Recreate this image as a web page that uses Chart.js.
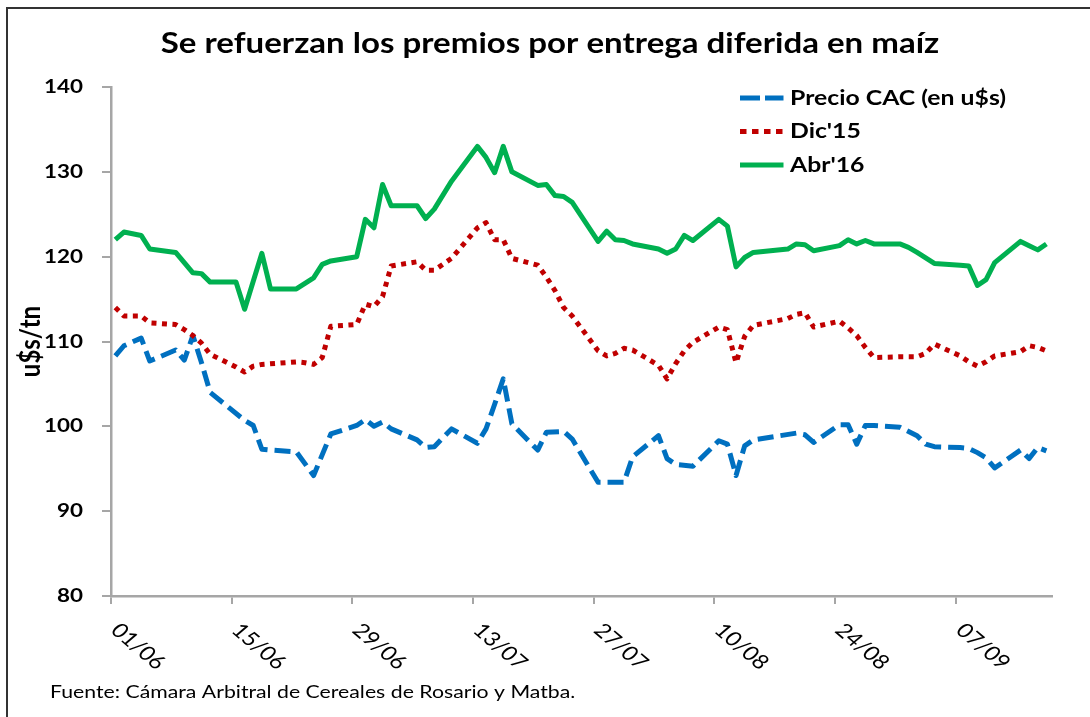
<!DOCTYPE html>
<html>
<head>
<meta charset="utf-8">
<script src="https://cdn.jsdelivr.net/npm/chart.js@4.4.0/dist/chart.umd.min.js"></script>
<style>
html,body{margin:0;padding:0;background:#fff;}
#wrap{width:1090px;height:717px;position:relative;}
</style>
</head>
<body>
<div id="wrap"><canvas id="c"></canvas></div>
<script>
// ---------- texts ----------
const chartTitle = "Se refuerzan los premios por entrega diferida en maíz";
const yAxisTitle = "u$s/tn";
const sourceNote = "Fuente: Cámara Arbitral de Cereales de Rosario y Matba.";
const seriesNames = ["Precio CAC (en u$s)", "Dic'15", "Abr'16"];

// ---------- axis ticks ----------
const tickDates = ["01/06","15/06","29/06","13/07","27/07","10/08","24/08","07/09"];
const yTickValues = [80, 90, 100, 110, 120, 130, 140];

// ---------- series (dd/mm 2015, u$s/tn) ----------
const cacDates = ["01/06","02/06","04/06","05/06","08/06","09/06","10/06","11/06","12/06",
  "16/06","17/06","18/06","19/06","22/06","24/06","26/06","29/06","30/06","01/07","02/07","03/07",
  "06/07","07/07","08/07","10/07","13/07","14/07","15/07","16/07","17/07","20/07","21/07","23/07","24/07",
  "27/07","30/07","31/07","03/08","04/08","05/08","07/08","10/08","11/08","12/08","13/08","14/08",
  "19/08","20/08","21/08","24/08","25/08","26/08","27/08","28/08","31/08","02/09","03/09","04/09",
  "07/09","08/09","09/09","10/09","11/09","14/09","15/09","16/09","17/09"];
const cacValues = [108.3,109.5,110.4,107.7,109.0,107.8,110.7,107.5,104.0,
  100.7,100.1,97.3,97.2,97.0,94.2,99.1,100.1,100.8,100.0,100.5,99.7,
  98.4,97.5,97.6,99.7,98.0,99.7,102.6,105.6,100.3,97.2,99.3,99.4,98.5,
  93.4,93.4,96.4,98.9,96.2,95.5,95.3,98.3,97.9,94.2,97.7,98.4,
  99.2,99.0,98.1,100.2,100.2,97.9,100.1,100.1,99.9,98.9,97.9,97.6,
  97.5,97.4,96.9,96.3,95.1,97.2,96.2,97.5,97.1];

const dic15Dates = ["01/06","02/06","04/06","05/06","08/06","09/06","10/06","11/06","12/06",
  "15/06","16/06","17/06","18/06","22/06","23/06","24/06","25/06","26/06","29/06","30/06","01/07","02/07","03/07",
  "06/07","07/07","08/07","10/07","13/07","14/07","15/07","16/07","17/07","20/07","21/07","22/07","23/07","24/07",
  "27/07","28/07","29/07","30/07","31/07","03/08","04/08","05/08","06/08","07/08","10/08","11/08","12/08","13/08","14/08",
  "18/08","19/08","20/08","21/08","24/08","25/08","26/08","27/08","28/08","31/08","01/09","02/09","03/09","04/09",
  "07/09","08/09","09/09","10/09","11/09","14/09","15/09","16/09","17/09"];
const dic15Values = [114.0,113.0,113.0,112.2,112.0,111.4,110.7,109.8,108.5,
  107.0,106.4,107.1,107.3,107.6,107.5,107.3,108.1,111.8,112.0,114.4,114.1,115.3,118.9,
  119.4,118.4,118.4,119.8,123.4,124.0,122.0,122.0,119.8,119.0,117.6,116.0,114.0,113.0,
  108.9,108.3,108.6,109.2,109.0,107.2,105.6,107.4,108.9,109.9,111.7,111.4,107.5,110.6,111.9,
  112.7,113.2,113.4,111.7,112.4,111.6,110.7,109.3,108.1,108.2,108.2,108.2,108.6,109.7,
  108.3,107.6,107.1,107.6,108.3,108.8,109.5,109.3,108.9];

const abr16Dates = ["01/06","02/06","04/06","05/06","08/06","10/06","11/06","12/06",
  "15/06","16/06","18/06","19/06","22/06","24/06","25/06","26/06","29/06","30/06","01/07","02/07","03/07",
  "06/07","07/07","08/07","10/07","13/07","14/07","15/07","16/07","17/07","20/07","21/07","22/07","23/07","24/07",
  "27/07","28/07","29/07","30/07","31/07","03/08","04/08","05/08","06/08","07/08","10/08","11/08","12/08","13/08","14/08",
  "18/08","19/08","20/08","21/08","24/08","25/08","26/08","27/08","28/08","31/08","01/09","02/09","04/09",
  "07/09","08/09","09/09","10/09","11/09","14/09","15/09","16/09","17/09"];
const abr16Values = [122.0,122.9,122.5,120.9,120.5,118.1,118.0,117.0,
  117.0,113.8,120.4,116.2,116.2,117.5,119.1,119.5,120.0,124.4,123.4,128.5,126.0,
  126.0,124.5,125.6,128.9,133.0,131.7,129.9,133.0,130.0,128.4,128.5,127.2,127.1,126.4,
  121.8,123.0,122.0,121.9,121.5,120.9,120.4,120.9,122.5,121.9,124.4,123.6,118.8,119.9,120.5,
  120.9,121.5,121.4,120.7,121.3,122.0,121.5,121.9,121.5,121.5,121.1,120.5,119.2,
  119.0,118.9,116.6,117.3,119.3,121.8,121.3,120.8,121.5];

// ---------- helpers ----------
function dayIndex(s) {
  const p = s.split('/').map(Number);
  return Math.round((Date.UTC(2015, p[1] - 1, p[0]) - Date.UTC(2015, 5, 1)) / 86400000);
}
function toPoints(dates, values) {
  return dates.map((s, i) => ({ x: dayIndex(s), y: values[i] }));
}

const SX = 1.18;            // horizontal text stretch of the original picture
const FONT = 'Lato, "Open Sans", sans-serif';
const AXIS_GREY = '#A6A6A6';

function drawText(ctx, txt, x, y, o) {
  ctx.save();
  ctx.translate(x, y);
  ctx.scale(SX, 1);
  if (o.rotate) ctx.rotate(o.rotate);
  ctx.font = o.font;
  ctx.fillStyle = o.color || '#000';
  ctx.textAlign = o.align || 'left';
  ctx.textBaseline = o.baseline || 'alphabetic';
  ctx.fillText(txt, 0, 0);
  ctx.restore();
}

const decorPlugin = {
  id: 'decor',
  afterDraw(chart) {
    const ctx = chart.ctx;
    const xs = chart.scales.x, ys = chart.scales.y;
    const ca = chart.chartArea;

    // frame (left and top edges of the original picture)
    ctx.save();
    ctx.strokeStyle = '#333';
    ctx.lineWidth = 2;
    ctx.beginPath();
    ctx.moveTo(7, 717); ctx.lineTo(7, 8); ctx.lineTo(1090, 8);
    ctx.stroke();
    ctx.restore();

    // title
    drawText(ctx, chartTitle, 550, 53, { font: 'bold 28px ' + FONT, align: 'center' });

    // y tick labels
    ys.ticks.forEach(t => {
      drawText(ctx, String(t.value), ca.left - 28, ys.getPixelForValue(t.value),
        { font: 'bold 19px ' + FONT, align: 'right', baseline: 'middle' });
    });

    // y axis title
    drawText(ctx, yAxisTitle, 31, (ca.top + ca.bottom) / 2,
      { font: 'bold 24px ' + FONT, align: 'center', baseline: 'middle', rotate: -Math.PI / 2 });

    // x tick labels, rotated downwards
    xs.ticks.forEach((t, i) => {
      const px = xs.getPixelForValue(t.value);
      drawText(ctx, tickDates[i], px + 4, ca.bottom + 31,
        { font: '20px ' + FONT, align: 'left', baseline: 'middle', rotate: Math.PI / 4 });
    });

    // legend
    const legendDash = [[20, 5], [6.5, 5.5], []];
    const rowsY = [98, 131.5, 165];
    chart.data.datasets.forEach((ds, i) => {
      const y = rowsY[i];
      ctx.save();
      ctx.strokeStyle = ds.borderColor;
      ctx.lineWidth = ds.borderWidth;
      ctx.setLineDash(legendDash[i]);
      ctx.lineCap = 'butt';
      ctx.beginPath();
      ctx.moveTo(740, y); ctx.lineTo(783.5, y);
      ctx.stroke();
      ctx.restore();
      drawText(ctx, ds.label, 790, y, { font: 'bold 21px ' + FONT, align: 'left', baseline: 'middle' });
    });

    // source
    drawText(ctx, sourceNote, 50, 698, { font: '18px ' + FONT, align: 'left' });
  }
};

const common = { pointRadius: 0, pointHoverRadius: 0, tension: 0, fill: false,
  borderJoinStyle: 'round', borderCapStyle: 'butt', spanGaps: true };

new Chart(document.getElementById('c'), {
  type: 'line',
  data: {
    datasets: [
      Object.assign({ label: seriesNames[0], data: toPoints(cacDates, cacValues),
        borderColor: '#0070C0', borderWidth: 5, borderDash: [16, 7], order: 3 }, common),
      Object.assign({ label: seriesNames[1], data: toPoints(dic15Dates, dic15Values),
        borderColor: '#C00000', borderWidth: 5, borderDash: [5, 5.5], order: 2 }, common),
      Object.assign({ label: seriesNames[2], data: toPoints(abr16Dates, abr16Values),
        borderColor: '#00B050', borderWidth: 5, order: 1 }, common)
    ]
  },
  options: {
    responsive: true,
    maintainAspectRatio: false,
    animation: false,
    devicePixelRatio: 1,
    layout: { padding: { top: 87, right: 38, left: 0, bottom: 0 } },
    plugins: { legend: { display: false }, title: { display: false }, tooltip: { enabled: false } },
    events: [],
    scales: {
      x: {
        type: 'linear',
        min: -0.5,
        max: 108.65,
        afterBuildTicks(scale) {
          scale.ticks = tickDates.map(s => ({ value: dayIndex(s) - 0.5 }));
        },
        afterFit(scale) { scale.height = 121; },
        ticks: { display: false },
        grid: { drawOnChartArea: false, drawTicks: true, tickLength: 8, color: AXIS_GREY, lineWidth: 2 },
        border: { display: true, color: AXIS_GREY, width: 2.5 }
      },
      y: {
        min: 80,
        max: 140,
        afterBuildTicks(scale) {
          scale.ticks = yTickValues.map(v => ({ value: v }));
        },
        afterFit(scale) { scale.width = 111; },
        ticks: { display: false },
        grid: { drawOnChartArea: false, drawTicks: true, tickLength: 9, color: AXIS_GREY, lineWidth: 2 },
        border: { display: true, color: AXIS_GREY, width: 2.5 }
      }
    }
  },
  plugins: [decorPlugin]
});
</script>
</body>
</html>
